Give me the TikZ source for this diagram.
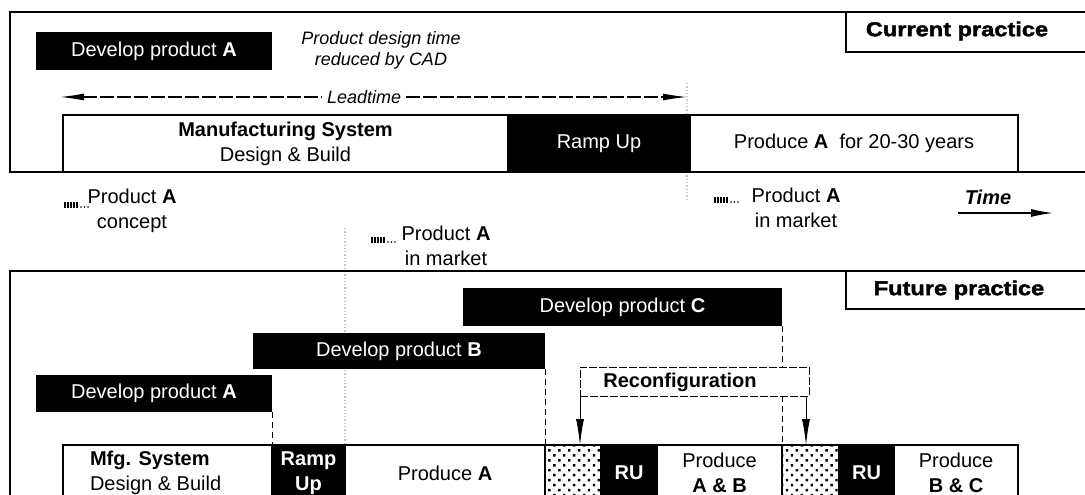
\documentclass[tikz,border=0pt]{standalone}
\usepackage{fontspec}
\setmainfont{Liberation Sans}
\newfontfamily\heavyfont{Liberation Sans}[FakeStretch=1.18, FakeBold=2]
\usetikzlibrary{positioning, arrows.meta, patterns.meta}

\tikzset{
  leadmark/.pic = {
    \foreach \i in {0,3,6,9,12}
      \draw[line width=1.3pt] (\i,-3) -- (\i,3);
    \foreach \i in {16,19.5,23}
      \fill (\i,2) circle (0.9);
  }
}

\begin{document}
\begin{tikzpicture}[
    x=1pt, y=-1pt,
    font=\fontsize{20}{25}\selectfont,
    every node/.style = {inner sep=0pt, outer sep=0pt},
    blkbar/.style = {rectangle, fill=black, text=white, anchor=north west},
    cell/.style   = {rectangle, draw, line width=1.2pt, align=center,
                     anchor=north west},
    rcell/.style  = {cell, fill=black, text=white},
    stip/.style   = {cell, pattern={Dots[distance=7pt, radius=1.7pt, angle=45]}},
    frame/.style  = {draw, line width=1.8pt},
    tag/.style    = {rectangle, draw, line width=1.8pt, minimum width=260pt,
                     anchor=north west},
    note/.style   = {align=center},
    arr/.style    = {-{Latex[length=26pt, width=8pt]}, line width=1pt},
    darr/.style   = {{Latex[length=24pt, width=7pt]}-{Latex[length=24pt, width=7pt]},
                     line width=1.2pt, dash pattern=on 14pt off 3pt},
    vdash/.style  = {line width=1pt, dash pattern=on 6pt off 4pt},
    faint/.style  = {gray!45, line width=1.3pt, dotted},
  ]
  \useasboundingbox (0,0) rectangle (1085,495);
  \clip (0,0) rectangle (1085,495);

  % Current practice
  \draw[frame] (10,12) rectangle (1100,172);
  \node[tag, minimum height=40pt] (cur) at (846,12) {};
  \node at (957,31) {\heavyfont\bfseries Current practice};

  \node[blkbar, minimum width=236pt, minimum height=38pt] (devA) at (36,32)
        {Develop product \textbf{A}};
  \node[note, font=\fontsize{18}{21}\selectfont\itshape] (cad) at (381,50.5)
        {Product design time\\reduced by CAD};

  \coordinate (ltL) at (60,97);
  \coordinate (ltR) at (687,97);
  \draw[faint] (ltR) ++(0,-14) -- ++(0,118);
  \draw[darr] (ltL) -- node[pos=0.485, fill=white, inner xsep=5pt, inner ysep=2pt,
        font=\fontsize{18}{21}\selectfont\itshape] {Leadtime} (ltR);

  \node[cell, minimum width=445pt, minimum height=57pt] (mfgA) at (63,115)
        {\textbf{Manufacturing System}\\Design \& Build};
  \node[rcell, minimum width=182pt, minimum height=57pt, right=0pt of mfgA] (rampA)
        {Ramp Up};
  \node[cell, minimum width=328pt, minimum height=57pt, right=0pt of rampA] (prodA)
        {Produce \textbf{A}\ \ for 20-30 years};

  % Milestones
  \pic at (65,205) {leadmark};
  \node[note] (concA) at (132,211) {Product \textbf{A}\\concept};
  \draw[faint] (345,228) -- (345,445);
  \pic at (372,240) {leadmark};
  \node[note] (mktB) at (446,245.5) {Product \textbf{A}\\in market};
  \pic at (715,200) {leadmark};
  \node[note] (mktA) at (796,207.5) {Product \textbf{A}\\in market};

  \node[font=\fontsize{20}{25}\selectfont\bfseries\itshape] (time) at (988,197) {Time};
  \coordinate (tmL) at (958,213);
  \coordinate (tmR) at (1053,213);
  \draw[-{Latex[length=22pt, width=8pt]}, line width=1.3pt] (tmL) -- (tmR);

  % Future practice
  \draw[frame] (10,271) rectangle (1100,520);
  \node[tag, minimum height=38pt] (fut) at (846,271) {};
  \node at (959,290) {\heavyfont\bfseries Future practice};

  \node[blkbar, minimum width=319pt, minimum height=38pt] (devC) at (463,288)
        {Develop product \textbf{C}};
  \node[blkbar, minimum width=292pt, minimum height=36pt] (devB) at (253,333)
        {Develop product \textbf{B}};
  \node[blkbar, minimum width=236pt, minimum height=37pt] (devA2) at (36,375)
        {Develop product \textbf{A}};

  \node[cell, minimum width=209pt, minimum height=56pt] (mfgB) at (63,445) {};
  \node[align=left, right=27pt of mfgB.west] (mfgTxt)
        {\textbf{Mfg. System}\\Design \& Build};
  \node[rcell, font=\fontsize{20}{25}\selectfont\bfseries, minimum width=73pt,
        minimum height=56pt, right=0pt of mfgB] (rampB) {Ramp\\Up};
  \node[cell, minimum width=200pt, minimum height=56pt, right=0pt of rampB] (prodA2)
        {Produce \textbf{A}};
  \node[stip, minimum width=56pt, minimum height=56pt, right=0pt of prodA2] (stip1) {};
  \node[rcell, minimum width=56pt, minimum height=56pt, right=0pt of stip1] (ru1)
        {\textbf{RU}};
  \node[cell, minimum width=125pt, minimum height=56pt, right=0pt of ru1] (prodAB)
        {Produce\\\textbf{A \& B}};
  \node[stip, minimum width=57pt, minimum height=56pt, right=0pt of prodAB] (stip2) {};
  \node[rcell, minimum width=55pt, minimum height=56pt, right=0pt of stip2] (ru2)
        {\textbf{RU}};
  \node[cell, minimum width=124pt, minimum height=56pt, right=0pt of ru2] (prodBC)
        {Produce\\\textbf{B \& C}};

  % Links to production
  \draw[vdash] (devA2.south east) -- (mfgB.north east);
  \draw[vdash] (devB.south east) -- (prodA2.north east);
  \draw[vdash] (devC.south east) -- (prodAB.north east);

  \node[cell, line width=0.9pt, dash pattern=on 8pt off 2pt, minimum width=229pt,
        minimum height=29pt, fill=white] (reconf) at (580,367) {};
  \node at (680,382) {\textbf{Reconfiguration}};
  \draw[arr] (reconf.south west) -- (reconf.south west |- stip1.north);
  \draw[arr] ([xshift=-3pt]reconf.south east) -- ([xshift=-3pt]reconf.south east |- stip2.north);
\end{tikzpicture}
\end{document}
